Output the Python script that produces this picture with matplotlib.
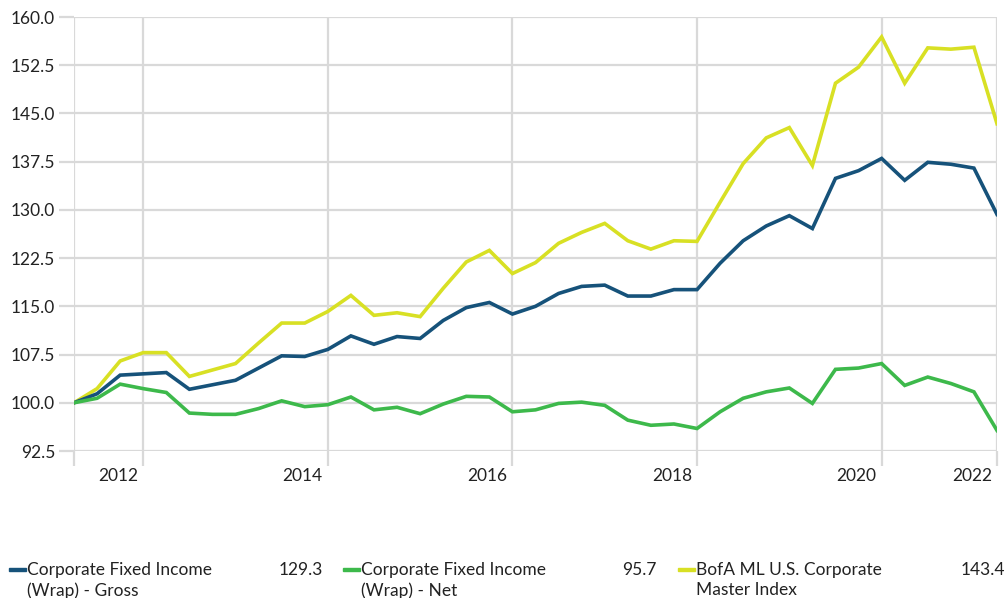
import matplotlib
matplotlib.use("Agg")
import matplotlib.pyplot as plt
from matplotlib.transforms import blended_transform_factory, offset_copy
from matplotlib.patches import Rectangle

plt.rcParams['font.family'] = ['Lato', 'DejaVu Sans']

# quarterly index values, starting at 100
gross = [100.0, 101.4, 104.3, 104.5, 104.7, 102.1, 102.8, 103.5, 105.4, 107.3,
         107.2, 108.3, 110.4, 109.1, 110.3, 110.0, 112.8, 114.8, 115.6, 113.8,
         115.0, 117.0, 118.1, 118.3, 116.6, 116.6, 117.6, 117.6, 121.7, 125.2,
         127.5, 129.1, 127.1, 134.9, 136.1, 138.0, 134.6, 137.4, 137.1, 136.5,
         129.3]
net = [100.0, 100.7, 102.9, 102.2, 101.6, 98.4, 98.2, 98.2, 99.1, 100.3,
       99.4, 99.7, 100.9, 98.9, 99.3, 98.3, 99.8, 101.0, 100.9, 98.6,
       98.9, 99.9, 100.1, 99.6, 97.3, 96.5, 96.7, 96.0, 98.6, 100.7,
       101.7, 102.3, 99.9, 105.2, 105.4, 106.1, 102.7, 104.0, 103.0, 101.7,
       95.7]
index = [100.0, 102.2, 106.5, 107.8, 107.8, 104.1, 105.1, 106.1, 109.3, 112.4,
         112.4, 114.2, 116.7, 113.6, 114.0, 113.4, 117.8, 121.9, 123.7, 120.1,
         121.8, 124.8, 126.5, 127.9, 125.2, 123.9, 125.2, 125.1, 131.2, 137.2,
         141.2, 142.8, 136.9, 149.7, 152.2, 156.9, 149.7, 155.2, 155.0, 155.3,
         143.4]

series_names = ["Corporate Fixed Income\n(Wrap) - Gross",
                "Corporate Fixed Income\n(Wrap) - Net",
                "BofA ML U.S. Corporate\nMaster Index"]
colors = ["#16527a", "#3db94b", "#d8e024"]

year_labels = ["2012", "2014", "2016", "2018", "2020", "2022"]
year_pos = [3, 11, 19, 27, 35, 40]
yticks = [92.5, 100.0, 107.5, 115.0, 122.5, 130.0, 137.5, 145.0, 152.5, 160.0]

grid_c = "#d9d9d9"

fig = plt.figure(figsize=(10.08, 5.98), dpi=100)
ax = fig.add_axes([74 / 1008, 1 - 451 / 598, 923 / 1008, 434 / 598])

x = list(range(len(gross)))
for vals, c in zip([index, gross, net], [colors[2], colors[0], colors[1]]):
    ax.plot(x, vals, color=c, lw=2.6, solid_joinstyle='miter', zorder=3)

ax.set_xlim(0, 40)
ax.set_ylim(92.5, 160)
for s in ax.spines.values():
    s.set_visible(False)

ax.set_yticks(yticks)
ax.set_yticklabels([f"{v:.1f}" for v in yticks])
ax.set_xticks([0] + year_pos)
ax.set_xticklabels([])
ax.grid(True, color=grid_c, lw=1.6, zorder=0)
ax.tick_params(axis='both', color=grid_c, width=1.6, length=10.5,
               labelsize=12.5, labelcolor="#222222")
ax.tick_params(axis='y', pad=3)

trans = blended_transform_factory(ax.transData, ax.transAxes)
trans = offset_copy(trans, fig=fig, x=-5, y=-3, units='dots')
for lab, p in zip(year_labels, year_pos):
    ax.text(p, -0.05, lab, transform=trans, ha='right', va='center',
            fontsize=12.5, color="#222222")

# legend along the bottom
finals = [gross[-1], net[-1], index[-1]]
starts = [9, 343, 678]
value_right = [323, 657, 1005]
for name, c, v, sx, vr in zip(series_names, colors, finals, starts, value_right):
    fig.patches.append(Rectangle((sx / 1008, 1 - 571 / 598), 17 / 1008, 3.5 / 598,
                                 transform=fig.transFigure, color=c))
    fig.text((sx + 18) / 1008, 1 - 562 / 598, name, ha='left', va='top',
             fontsize=12.5, color="#222222", linespacing=1.3)
    fig.text(vr / 1008, 1 - 562 / 598, f"{v:.1f}", ha='right', va='top',
             fontsize=12.5, color="#222222")

fig.savefig("out.png", dpi=100)
